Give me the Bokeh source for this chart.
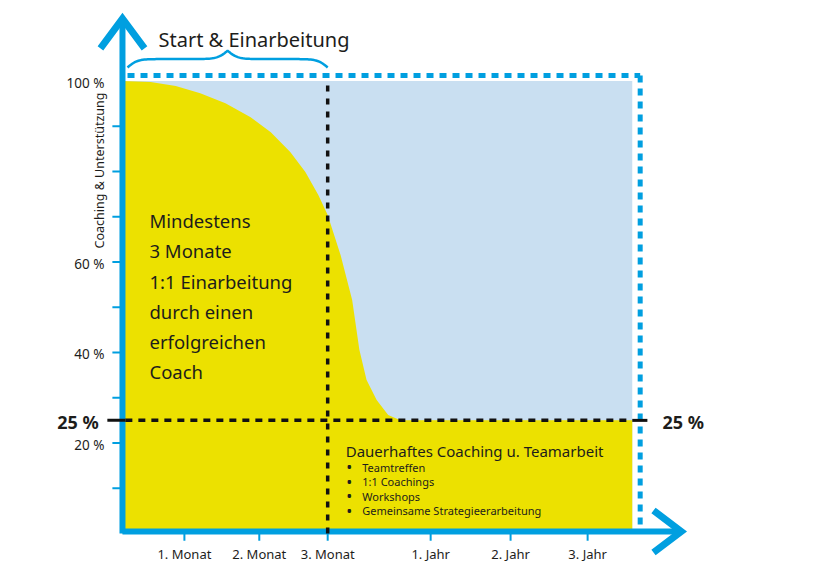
import numpy as np
from bokeh.plotting import figure
from bokeh.models import Range1d
from bokeh.core.properties import value
from bokeh.embed import file_html
from bokeh.resources import INLINE

# ---------------- data ----------------
x_tick_pos = [0.86, 1.90, 2.85, 4.28, 5.39, 6.46]
x_tick_labels = ["1. Monat", "2. Monat", "3. Monat", "1. Jahr", "2. Jahr", "3. Jahr"]

y_minor_ticks = [10, 20, 30, 40, 50, 60, 70, 80, 90]
y_label_vals = [100, 60, 40, 20]
y_label_texts = ["100 %", "60 %", "40 %", "20 %"]

# coaching & support curve (yellow area), x in timeline units, y in %
curve_x = [0.00, 0.39, 0.74, 1.08, 1.43, 1.78, 2.06, 2.33, 2.54, 2.72, 2.85,
           3.03, 3.19, 3.29, 3.39, 3.53, 3.69, 3.86, 7.08]
curve_y = [100.0, 99.8, 98.9, 97.3, 95.1, 92.0, 88.7, 84.3, 79.9, 74.8, 70.4,
           61.5, 51.6, 40.6, 33.9, 29.5, 26.2, 25.0, 25.0]

full_level = 100
threshold = 25
onboarding_end = 2.85       # 3. Monat
timeline_end = 7.08
border_x = 7.19
border_y = 101.2

left_lines = ["Mindestens", "3 Monate", "1:1 Einarbeitung", "durch einen",
              "erfolgreichen", "Coach"]
right_title = "Dauerhaftes Coaching u. Teamarbeit"
right_items = ["Teamtreffen", "1:1 Coachings", "Workshops",
               "Gemeinsame Strategieerarbeitung"]

# ---------------- styles ----------------
BLUE = "#009fe0"
YELLOW = "#ece100"
LIGHT = "#c9dff1"
TXT = "#1d1d1b"
FONT = value("Noto Sans")

p = figure(width=840, height=583, x_range=Range1d(-1.694, 9.972),
           y_range=Range1d(-11.05, 117.79), output_backend="svg",
           toolbar_location=None, min_border=0,
           x_axis_location=None, y_axis_location=None)
p.grid.visible = False
p.outline_line_color = None
p.background_fill_color = "white"
p.border_fill_color = "white"

# background area
p.quad(left=[0], right=[timeline_end], bottom=[0], top=[full_level],
       fill_color=LIGHT, line_color=None)

# yellow area under the curve
px = [0] + curve_x + [curve_x[-1]]
py = [0] + curve_y + [0]
p.patch(px, py, fill_color=YELLOW, line_color=None)

# blue dotted border
p.line([0.07, border_x], [border_y, border_y], line_color=BLUE, line_width=5,
       line_dash="7 6")
p.line([border_x, border_x], [border_y, 0], line_color=BLUE, line_width=5,
       line_dash="7 6")

# axes lines with chevrons
y_tip = 113.8
x_tip = 7.76
x_axis_y = 0.44
p.line([0, 0], [0, y_tip], line_color=BLUE, line_width=6)
p.line([0, x_tip], [x_axis_y, x_axis_y], line_color=BLUE, line_width=6)
arm_w, arm_h = 0.306, 6.6
p.line([-arm_w, 0, arm_w], [y_tip - arm_h, y_tip, y_tip - arm_h],
       line_color=BLUE, line_width=7, line_join="miter")
arm_dx, arm_dy = 0.385, 4.65
p.line([x_tip - arm_dx, x_tip, x_tip - arm_dx],
       [x_axis_y + arm_dy, x_axis_y, x_axis_y - arm_dy],
       line_color=BLUE, line_width=7, line_join="miter")

# ticks
p.segment(x0=[-0.14] * len(y_minor_ticks), y0=y_minor_ticks,
          x1=[-0.02] * len(y_minor_ticks), y1=y_minor_ticks,
          line_color=BLUE, line_width=2)
p.segment(x0=x_tick_pos, y0=[0] * len(x_tick_pos), x1=x_tick_pos,
          y1=[-1.6] * len(x_tick_pos), line_color=BLUE, line_width=2)

# dashed guide lines
p.line([onboarding_end, onboarding_end], [0, full_level], line_color="#111111",
       line_width=3.5, line_dash="6 7")
p.line([0.04, timeline_end], [threshold, threshold], line_color="#111111",
       line_width=3.5, line_dash="7 6")
p.line([-0.21, 0.04], [threshold, threshold], line_color="#111111", line_width=3)
p.line([timeline_end, 7.29], [threshold, threshold], line_color="#111111",
       line_width=3)

# brace over the onboarding span
bx = np.linspace(0, 0.5, 60)
beta = 40.0
half = 1 / (1 + np.exp(-beta * (bx - bx[0]))) + 1 / (1 + np.exp(-beta * (bx - bx[-1])))
brace_y = np.concatenate([half, half[-2::-1]]) - 0.5
brace_t = np.concatenate([bx, 1 - bx[-2::-1]])
b0, b1 = 0.07, onboarding_end
p.line(b0 + brace_t * (b1 - b0), 103.0 + brace_y * 3.7, line_color=BLUE,
       line_width=2.5)

# texts
p.text(x=[0.5], y=[109.2], text=["Start & Einarbeitung"], text_font=FONT,
       text_font_size=value("20px"), text_color=TXT, text_baseline="middle")

p.text(x=[-0.25] * len(y_label_vals), y=[v - 0.4 for v in y_label_vals],
       text=y_label_texts, text_font=FONT, text_font_size=value("13.5px"),
       text_color=TXT, text_align="right", text_baseline="middle")
p.text(x=[-0.32], y=[63.0], text=["Coaching & Unterstützung"], angle=np.pi / 2,
       text_font=FONT, text_font_size=value("12.5px"), text_color=TXT,
       text_align="left", text_baseline="middle")

p.text(x=x_tick_pos, y=[-4.6] * len(x_tick_pos), text=x_tick_labels,
       text_font=FONT, text_font_size=value("13px"), text_color=TXT,
       text_align="center", text_baseline="middle")

p.text(x=[-0.33], y=[threshold - 0.3], text=["25 %"], text_font=FONT,
       text_font_size=value("18px"), text_font_style="bold", text_color=TXT,
       text_align="right", text_baseline="middle")
p.text(x=[7.5], y=[threshold - 0.3], text=["25 %"], text_font=FONT,
       text_font_size=value("18px"), text_font_style="bold", text_color=TXT,
       text_align="left", text_baseline="middle")

line_step = 6.7
p.text(x=[0.375] * len(left_lines),
       y=[69.2 - i * line_step for i in range(len(left_lines))],
       text=left_lines, text_font=FONT, text_font_size=value("18.5px"),
       text_color=TXT, text_baseline="middle")

p.text(x=[3.10], y=[18.3], text=[right_title], text_font=FONT,
       text_font_size=value("15px"), text_color=TXT, text_baseline="middle")
item_step = 3.2
item_y = [14.6 - i * item_step for i in range(len(right_items))]
p.text(x=[3.15] * len(right_items), y=item_y, text=["•"] * len(right_items),
       text_font=FONT, text_font_size=value("16px"), text_color=TXT,
       text_align="center", text_baseline="middle")
p.text(x=[3.33] * len(right_items), y=item_y, text=right_items,
       text_font=FONT, text_font_size=value("11px"), text_color=TXT,
       text_baseline="middle")

open("out.html", "w").write(file_html(p, INLINE))
